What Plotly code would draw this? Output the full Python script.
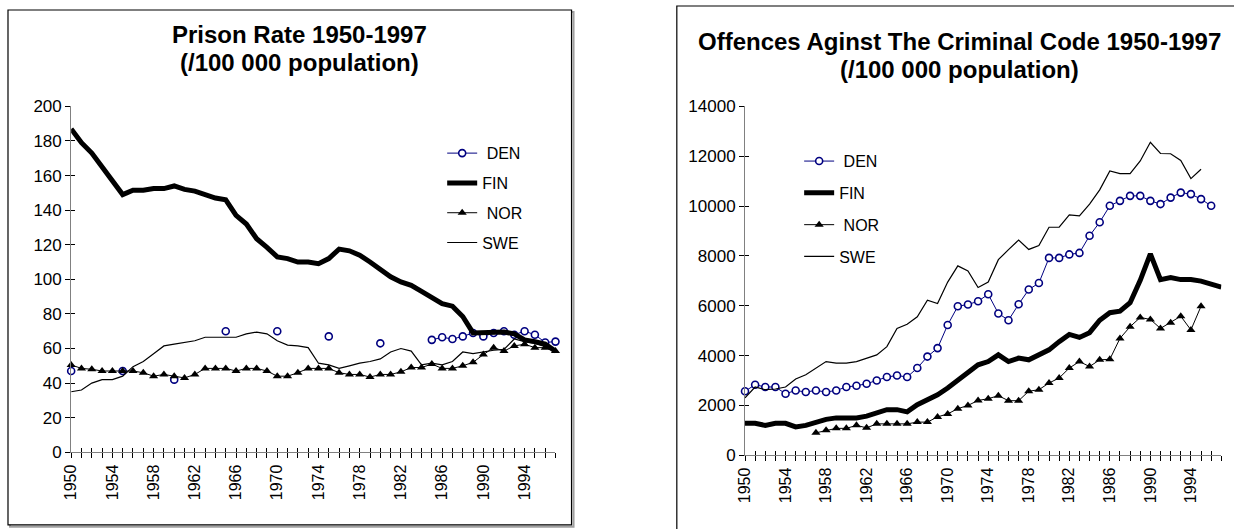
import plotly.graph_objects as go

years = list(range(1950, 1998))

# ---- Prison rate (/100 000) ----
prison_fin = [187,179,173,165,158,149,151.5,151.5,152.5,152.5,
              154,152,151,149,147,146,137,132,123.5,118.5,
              113,112,110,110,109,112,117.5,116.5,114,110,
              105.5,101.5,98.5,96.5,93,89.5,86,84.5,78.5,69,
              69,69.5,69.5,68.5,65,64,62.5,58.5]
prison_den = [47,None,None,None,None,47,None,None,None,None,
              42,None,None,None,None,70,None,None,None,None,
              70,None,None,None,None,67,None,None,None,None,
              63,None,None,None,None,65,66.5,65.5,67,69,
              67,69,70,68,70,68,63.5,64]
prison_nor = [50.5,48.5,48,47,47,47,47,46,44,45,
              44,43,45,48.5,48.5,48.5,47,48.5,48.5,47,
              44,44,46,48.5,48.5,48.5,46,45,45,43.5,
              45,45,46.5,49,49,51,48.5,48.5,50,52,
              56.5,60.5,58.5,61.5,62.5,60.5,60.5,58.5]
prison_swe = [35,36,40,42,42,44,49.5,52.5,57,61.5,
              62.5,63.5,64.5,66.5,66.5,66.5,66.5,68.5,69.5,68.5,
              64.5,62,61.5,60.5,51.5,50.5,48.5,50,51.5,52.5,
              54,58,60,58.5,50.5,51.5,50.5,52.5,58,57,
              58,59,59.5,65.5,64,63,61,59]

# ---- Offences against the criminal code (/100 000) ----
off_den = [2570,2830,2740,2740,2470,2600,2540,2600,2540,2600,
           2740,2790,2870,3000,3140,3200,3140,3500,3960,4300,
           5230,5980,6050,6180,6460,5690,5420,6060,6650,6910,
           7920,7920,8060,8120,8810,9350,10010,10210,10410,10410,
           10210,10080,10340,10540,10480,10280,10010,None]
off_fin = [1280,1280,1200,1280,1280,1140,1200,1330,1440,1500,
           1500,1500,1570,1700,1830,1830,1740,2030,2230,2430,
           2700,3030,3360,3630,3760,4030,3760,3900,3830,4030,
           4230,4560,4850,4730,4920,5420,5720,5780,6120,7020,
           8080,7050,7130,7050,7050,6990,6850,6750]
off_nor = [None,None,None,None,None,None,None,900,1000,1080,
           1080,1200,1100,1260,1260,1260,1260,1330,1330,1540,
           1660,1870,2000,2200,2270,2390,2190,2190,2570,2630,
           2900,3100,3500,3760,3560,3830,3850,4690,5160,5530,
           5450,5090,5320,5580,5030,5980,None,None]
off_swe = [2300,2740,2630,2660,2740,3060,3230,3500,3760,3700,
           3700,3760,3900,4030,4360,5090,5260,5560,6220,6090,
           6950,7600,7400,6730,6950,7850,8250,8640,8260,8420,
           9150,9150,9650,9610,10080,10650,11410,11300,11300,11810,
           12560,12110,12100,11830,11100,11480,None,None]

tick_years = list(range(1950, 1998, 4))
tick_labels = [str(y) for y in tick_years]
left_title = ["Prison Rate 1950-1997", "(/100 000 population)"]
right_title = ["Offences Aginst The Criminal Code 1950-1997", "(/100 000 population)"]

W, H = 1234, 529
FONT = "Liberation Sans, Arial, sans-serif"
NAVY = "#000080"

# target picture pixel -> paper fraction (small correction for the capture offset)
def px(x):
    return ((x - 8) / 0.99) / W

def py(y):
    return (H - (y - 7) / 0.97) / H

fig = go.Figure()

def add_series(xa, ya, den, fin, nor, swe, legend):
    fig.add_trace(go.Scatter(x=years, y=den, name="\u00a0DEN", mode="lines+markers",
                             line=dict(color=NAVY, width=1),
                             marker=dict(symbol="circle", size=7, color="white",
                                         line=dict(color=NAVY, width=1.6)),
                             xaxis=xa, yaxis=ya, legend=legend, legendgroup=legend + "a",
                             cliponaxis=False, connectgaps=False))
    fig.add_trace(go.Scatter(x=years, y=fin, name="FIN", mode="lines",
                             line=dict(color="black", width=5),
                             xaxis=xa, yaxis=ya, legend=legend, legendgroup=legend + "b",
                             cliponaxis=False))
    fig.add_trace(go.Scatter(x=years, y=nor, name="\u00a0NOR", mode="lines+markers",
                             line=dict(color="black", width=1),
                             marker=dict(symbol="triangle-up", size=8, color="black"),
                             xaxis=xa, yaxis=ya, legend=legend, legendgroup=legend + "c",
                             cliponaxis=False))
    fig.add_trace(go.Scatter(x=years, y=swe, name="SWE", mode="lines",
                             line=dict(color="black", width=1.2),
                             xaxis=xa, yaxis=ya, legend=legend, legendgroup=legend + "d",
                             cliponaxis=False))

add_series("x", "y", prison_den, prison_fin, prison_nor, prison_swe, "legend")
add_series("x2", "y2", off_den, off_fin, off_nor, off_swe, "legend2")

axis_font = dict(family=FONT, size=17, color="black")
xfont = dict(family=FONT, size=16, color="black")
AX = "#808080"

def xaxis_main(dom, anchor):
    return dict(domain=dom, anchor=anchor, range=[1950, 1997], showgrid=False, zeroline=False,
                showline=True, linecolor=AX, linewidth=1,
                tickmode="array", tickvals=tick_years, ticktext=tick_labels,
                tickangle=-90, tickfont=xfont, ticks="outside", ticklen=5, tickcolor="black",
                minor=dict(dtick=1, ticks="outside", ticklen=5, tickcolor="black", showgrid=False))

def xaxis_over(over, anchor):
    return dict(overlaying=over, anchor=anchor, range=[1950, 1997], showgrid=False, zeroline=False,
                showline=False, showticklabels=False, ticks="inside", ticklen=4,
                tickcolor="black", dtick=1, tick0=1950)

def yaxis_main(dom, anchor, rng, dt):
    return dict(domain=dom, anchor=anchor, range=rng, dtick=dt, showgrid=False, zeroline=False,
                showline=True, linecolor=AX, linewidth=1, tickfont=axis_font, tickformat="d",
                ticks="outside", ticklen=5, tickcolor="black")

def yaxis_over(over, anchor, rng, dt):
    return dict(overlaying=over, anchor=anchor, range=rng, dtick=dt, showgrid=False,
                zeroline=False, showline=False, showticklabels=False, ticks="inside",
                ticklen=4, tickcolor="black")

ldx = [px(70), px(553)]
ldy = [py(453), py(105)]
rdx = [px(742), px(1217)]
rdy = [py(456), py(105)]

fig.update_layout(
    width=W, height=H, margin=dict(l=0, r=0, t=0, b=0),
    paper_bgcolor="white", plot_bgcolor="white",
    font=dict(family=FONT, color="black"),
    xaxis=xaxis_main(ldx, "y"),
    yaxis=yaxis_main(ldy, "x", [0, 200], 20),
    xaxis2=xaxis_main(rdx, "y2"),
    yaxis2=yaxis_main(rdy, "x2", [0, 14000], 2000),
    xaxis3=xaxis_over("x", "y"),
    yaxis3=yaxis_over("y", "x", [0, 200], 20),
    xaxis4=xaxis_over("x2", "y2"),
    yaxis4=yaxis_over("y2", "x2", [0, 14000], 2000),
    legend=dict(x=px(440), y=py(135), xanchor="left", yanchor="top",
                font=dict(family=FONT, size=16, color="black"),
                tracegroupgap=6, bgcolor="rgba(0,0,0,0)", itemclick=False),
    legend2=dict(x=px(796), y=py(143), xanchor="left", yanchor="top",
                 font=dict(family=FONT, size=16, color="black"),
                 tracegroupgap=8, bgcolor="rgba(0,0,0,0)", itemclick=False),
    showlegend=True,
)

# dummy traces to activate overlay axes
for xa, ya in (("x3", "y3"), ("x4", "y4")):
    fig.add_trace(go.Scatter(x=[None], y=[None], xaxis=xa, yaxis=ya, showlegend=False,
                             hoverinfo="skip"))

# chart boxes
fig.add_shape(type="rect", xref="paper", yref="paper",
              x0=px(9), x1=px(571), y0=py(528), y1=py(10),
              line=dict(color="#a0a0a0", width=2), layer="below")
fig.add_shape(type="rect", xref="paper", yref="paper",
              x0=px(7), x1=px(569), y0=py(526), y1=py(8),
              line=dict(color="black", width=1.2), fillcolor="white", layer="below")
fig.add_shape(type="rect", xref="paper", yref="paper",
              x0=px(674), x1=px(1260), y0=py(560), y1=py(4),
              line=dict(color="black", width=1.2), layer="below")

# titles (two lines each)
for txt, yy in zip(left_title, (33, 61)):
    fig.add_annotation(text="<b>%s</b>" % txt, xref="paper", yref="paper", x=px(298), y=py(yy),
                       xanchor="center", yanchor="middle", showarrow=False,
                       font=dict(family=FONT, size=24, color="black"))
for txt, yy in zip(right_title, (40, 68)):
    fig.add_annotation(text="<b>%s</b>" % txt, xref="paper", yref="paper", x=px(956), y=py(yy),
                       xanchor="center", yanchor="middle", showarrow=False,
                       font=dict(family=FONT, size=24, color="black"))

fig.write_html("out.html", config={"displayModeBar": False},
               post_script="document.body.style.margin='0';document.body.style.overflow='hidden';")
